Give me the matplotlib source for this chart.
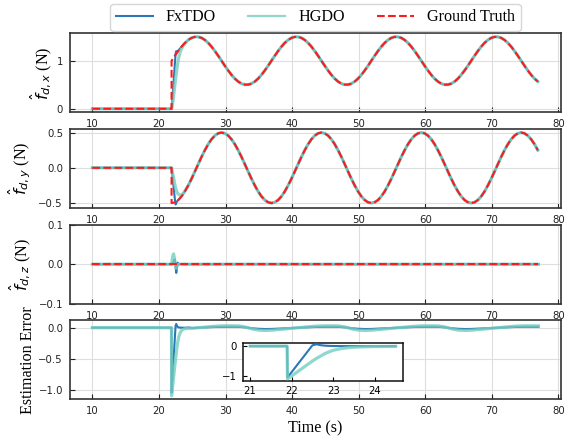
import numpy as np
import matplotlib
matplotlib.use("Agg")
import matplotlib.pyplot as plt
from matplotlib.lines import Line2D

plt.rcParams['font.family'] = 'DejaVu Sans'
plt.rcParams['mathtext.fontset'] = 'dejavusans'
SERIF = ['Times New Roman', 'Liberation Serif', 'DejaVu Serif']

# ---------------- data ----------------
step_t = 21.9
# ground truth samples every 0.5 s after the step (21.9 ... 76.9)
gt_grid = [round(step_t + 0.5 * k, 2) for k in range(111)]
gt_t = [10.0, step_t] + gt_grid

gt_x = [0.0, 0.0,
        1.000, 1.104, 1.203, 1.294, 1.372, 1.433, 1.476, 1.497, 1.497, 1.476,
        1.433, 1.372, 1.294, 1.203, 1.104, 1.000, 0.896, 0.797, 0.706, 0.628,
        0.567, 0.524, 0.503, 0.503, 0.524, 0.567, 0.628, 0.706, 0.797, 0.896,
        1.000, 1.104, 1.203, 1.294, 1.372, 1.433, 1.476, 1.497, 1.497, 1.476,
        1.433, 1.372, 1.294, 1.203, 1.104, 1.000, 0.896, 0.797, 0.706, 0.628,
        0.567, 0.524, 0.503, 0.503, 0.524, 0.567, 0.628, 0.706, 0.797, 0.896,
        1.000, 1.104, 1.203, 1.294, 1.372, 1.433, 1.476, 1.497, 1.497, 1.476,
        1.433, 1.372, 1.294, 1.203, 1.104, 1.000, 0.896, 0.797, 0.706, 0.628,
        0.567, 0.524, 0.503, 0.503, 0.524, 0.567, 0.628, 0.706, 0.797, 0.896,
        1.000, 1.104, 1.203, 1.294, 1.372, 1.433, 1.476, 1.497, 1.497, 1.476,
        1.433, 1.372, 1.294, 1.203, 1.104, 1.000, 0.896, 0.797, 0.706, 0.628,
        0.567]

gt_y = [0.0, 0.0,
        -0.500, -0.489, -0.457, -0.405, -0.335, -0.250, -0.155, -0.052, 0.052, 0.155,
        0.250, 0.335, 0.405, 0.457, 0.489, 0.500, 0.489, 0.457, 0.405, 0.335,
        0.250, 0.155, 0.052, -0.052, -0.155, -0.250, -0.335, -0.405, -0.457, -0.489,
        -0.500, -0.489, -0.457, -0.405, -0.335, -0.250, -0.155, -0.052, 0.052, 0.155,
        0.250, 0.335, 0.405, 0.457, 0.489, 0.500, 0.489, 0.457, 0.405, 0.335,
        0.250, 0.155, 0.052, -0.052, -0.155, -0.250, -0.335, -0.405, -0.457, -0.489,
        -0.500, -0.489, -0.457, -0.405, -0.335, -0.250, -0.155, -0.052, 0.052, 0.155,
        0.250, 0.335, 0.405, 0.457, 0.489, 0.500, 0.489, 0.457, 0.405, 0.335,
        0.250, 0.155, 0.052, -0.052, -0.155, -0.250, -0.335, -0.405, -0.457, -0.489,
        -0.500, -0.489, -0.457, -0.405, -0.335, -0.250, -0.155, -0.052, 0.052, 0.155,
        0.250, 0.335, 0.405, 0.457, 0.489, 0.500, 0.489, 0.457, 0.405, 0.335,
        0.250]

# observer transient (after this they lie on the ground truth)
tr_t = [10.0, 21.9, 22.0, 22.1, 22.2, 22.3, 22.4, 22.5, 22.6, 22.7, 22.8, 22.9,
        23.0, 23.2, 23.4, 23.6, 23.8, 24.0]
fx_x_tr = [0.0, 0.0, 0.15, 0.35, 0.55, 0.75, 0.95, 1.15, 1.20, 1.195, 1.20, 1.21,
           1.226, 1.26, 1.294, 1.327, 1.357, 1.385]
hg_x_tr = [0.0, 0.0, 0.05, 0.15, 0.26, 0.38, 0.50, 0.62, 0.73, 0.83, 0.93, 1.01,
           1.08, 1.18, 1.25, 1.30, 1.34, 1.37]
fx_y_tr = [0.0, 0.0, -0.09, -0.18, -0.27, -0.36, -0.45, -0.52, -0.50, -0.48, -0.467, -0.457,
           -0.448, -0.428, -0.405, -0.379, -0.35, -0.319]
hg_y_tr = [0.0, 0.0, -0.05, -0.10, -0.14, -0.19, -0.24, -0.28, -0.31, -0.34, -0.36, -0.37,
           -0.38, -0.39, -0.385, -0.365, -0.34, -0.31]
tail_from = 7  # index in gt arrays of t = 24.4

# z-axis estimates
z_t = [10.0, 21.9, 22.0, 22.1, 22.2, 22.3, 22.4, 22.5, 22.6, 22.7, 22.8, 22.9, 23.0, 23.2, 77.0]
gt_z = [0.0] * len(z_t)
fx_z = [0.0, 0.0, 0.0, 0.003, 0.006, 0.010, 0.012, -0.005, -0.022, -0.010, 0.004, 0.002, 0.0, 0.0, 0.0]
hg_z = [0.0, 0.0, 0.012, 0.022, 0.026, 0.018, 0.005, -0.005, -0.010, -0.006, -0.002, 0.0, 0.0, 0.0, 0.0]

# estimation error
err_t = [10.0, 21.0, 21.89, 21.9, 22.0, 22.1, 22.2, 22.3, 22.4, 22.5, 22.6, 22.7, 22.8,
         22.9, 23.0, 23.2, 23.4, 23.6, 23.8, 24.0, 24.5] + list(range(25, 78))
fx_err = [0.0, 0.0, 0.0, -1.05, -0.87, -0.69, -0.51, -0.33, -0.15, 0.03, 0.06, 0.03, 0.015,
          0.008, 0.004, 0.0, 0.0, 0.0, 0.0, 0.0, 0.003,
          -0.005, 0.0, 0.005, 0.01, 0.013, 0.015, 0.015, 0.014, 0.005, -0.01, -0.018, -0.022,
          -0.02, -0.015, -0.01, -0.005, 0.0, 0.005, 0.01, 0.013, 0.015, 0.015, 0.014, 0.005, -0.01, -0.018, -0.022,
          -0.02, -0.015, -0.01, -0.005, 0.0, 0.005, 0.01, 0.013, 0.015, 0.015, 0.014, 0.005, -0.01, -0.018, -0.022,
          -0.02, -0.015, -0.01, -0.005, 0.0, 0.005, 0.01, 0.013, 0.015, 0.015, 0.014]
hg_err = [0.0, 0.0, 0.0, -1.10, -1.00, -0.90, -0.80, -0.70, -0.60, -0.50, -0.41, -0.33, -0.25,
          -0.19, -0.14, -0.08, -0.045, -0.03, -0.02, -0.015, -0.01,
          -0.01, 0.0, 0.01, 0.02, 0.027, 0.03, 0.03, 0.028, 0.01, -0.02, -0.04, -0.045,
          -0.04, -0.03, -0.02, -0.01, 0.0, 0.01, 0.02, 0.027, 0.03, 0.03, 0.028, 0.01, -0.02, -0.04, -0.045,
          -0.04, -0.03, -0.02, -0.01, 0.0, 0.01, 0.02, 0.027, 0.03, 0.03, 0.028, 0.01, -0.02, -0.04, -0.045,
          -0.04, -0.03, -0.02, -0.01, 0.0, 0.01, 0.02, 0.027, 0.03, 0.03, 0.028]

x_ticks = [10, 20, 30, 40, 50, 60, 70, 80]
inset_ticks = [21, 22, 23, 24]
labels = ['FxTDO', 'HGDO', 'Ground Truth']

# ---------------- figure ----------------
C_FX = '#2a78b8'
C_HG = '#74cdc0'
C_GT = '#ff1a1a'
TICK = 7.3
LAB = 11.6
LW_HG = 2.3

fig = plt.figure(figsize=(5.74, 4.38), dpi=100)
gs = fig.add_gridspec(4, 1, left=0.122, right=0.977, top=0.924, bottom=0.088, hspace=0.21)
axes = [fig.add_subplot(gs[i]) for i in range(4)]

obs_x_t = tr_t + gt_t[tail_from:]
fx_x = fx_x_tr + gt_x[tail_from:]
hg_x = hg_x_tr + gt_x[tail_from:]
fx_y = fx_y_tr + gt_y[tail_from:]
hg_y = hg_y_tr + gt_y[tail_from:]


def style(ax):
    ax.grid(True, color='#dedede', lw=0.8)
    ax.set_axisbelow(True)
    ax.tick_params(direction='in', length=3.5, width=0.8, labelsize=TICK, pad=5, colors='#222222')
    for s in ax.spines.values():
        s.set_color('#333333')
        s.set_linewidth(1.2)


ax = axes[0]
ax.plot(obs_x_t, fx_x, color=C_FX, lw=1.5, zorder=3)
ax.plot(obs_x_t, hg_x, color=C_HG, lw=LW_HG, alpha=0.8, zorder=3)
ax.plot(gt_t, gt_x, color=C_GT, lw=1.5, ls='--', zorder=4)
ax.set_yticks([0, 1])
ax.set_ylabel(r'$\hat{f}_{d,x}$ (N)', fontsize=LAB, family=SERIF, labelpad=2)

ax = axes[1]
ax.plot(obs_x_t, fx_y, color=C_FX, lw=1.5, zorder=3)
ax.plot(obs_x_t, hg_y, color=C_HG, lw=LW_HG, alpha=0.8, zorder=3)
ax.plot(gt_t, gt_y, color=C_GT, lw=1.5, ls='--', zorder=4)
ax.set_yticks([-0.5, 0.0, 0.5])
ax.set_ylabel(r'$\hat{f}_{d,y}$ (N)', fontsize=LAB, family=SERIF)

ax = axes[2]
ax.plot(z_t, fx_z, color=C_FX, lw=1.5, zorder=3)
ax.plot(z_t, hg_z, color=C_HG, lw=LW_HG, alpha=0.8, zorder=3)
ax.plot(z_t, gt_z, color=C_GT, lw=1.5, ls='--', zorder=4)
ax.set_ylim(-0.1, 0.1)
ax.set_yticks([-0.1, 0.0, 0.1])
ax.set_ylabel(r'$\hat{f}_{d,z}$ (N)', fontsize=LAB, family=SERIF)

ax = axes[3]
ax.plot(err_t, fx_err, color=C_FX, lw=1.5, zorder=3)
ax.plot(err_t, hg_err, color=C_HG, lw=LW_HG, alpha=0.8, zorder=3)
ax.set_yticks([-1.0, -0.5, 0.0])
ax.set_ylabel('Estimation Error', fontsize=LAB, family=SERIF, labelpad=2)
ax.set_xlabel('Time (s)', fontsize=LAB, family=SERIF, labelpad=3)

for ax in axes:
    ax.set_xlim(6.65, 80.35)
    ax.set_xticks(x_ticks)
    style(ax)

handles = [Line2D([], [], color=C_FX, lw=1.5),
           Line2D([], [], color=C_HG, lw=1.6, alpha=0.8),
           Line2D([], [], color=C_GT, lw=1.5, ls='--')]
axes[0].legend(handles, labels, loc='lower center', bbox_to_anchor=(0.5, 1.03), ncol=3,
               prop={'family': SERIF, 'size': LAB}, frameon=True, edgecolor='#cccccc',
               handlelength=2.3, columnspacing=2.0, borderaxespad=0.0, borderpad=0.35)

# inset
ins = fig.add_axes([0.423, 0.131, 0.279, 0.0868])
et = np.array(err_t)
mask = (et >= 21.0) & (et <= 24.5)
ins.plot(et[mask], np.array(fx_err)[mask], color=C_FX, lw=1.5, zorder=3)
ins.plot(et[mask], np.array(hg_err)[mask], color=C_HG, lw=LW_HG, alpha=0.8, zorder=3)
ins.set_xticks(inset_ticks)
ins.set_yticks([-1, 0])
ins.tick_params(direction='in', length=3, width=0.8, labelsize=TICK, pad=4)
for s in ins.spines.values():
    s.set_color('#111111')
    s.set_linewidth(1.1)

fig.savefig('out.png', dpi=100)
